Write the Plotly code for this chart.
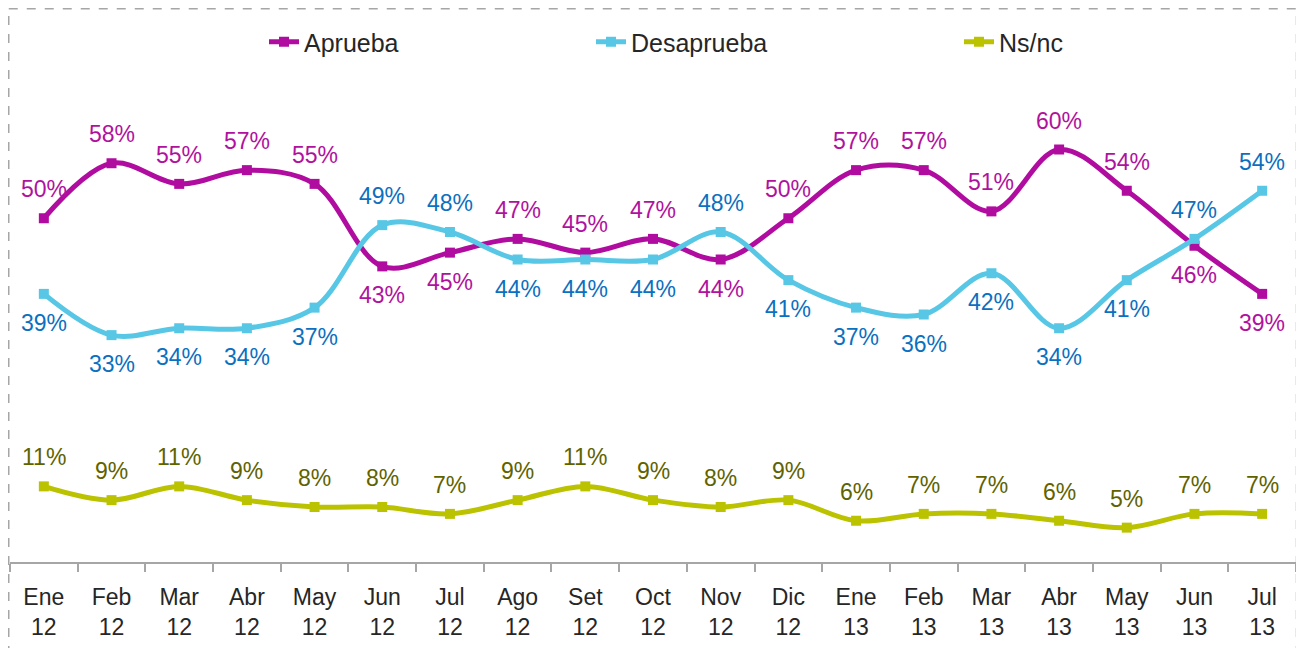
import plotly.graph_objects as go

categories = ["Ene<br>12", "Feb<br>12", "Mar<br>12", "Abr<br>12", "May<br>12", "Jun<br>12",
              "Jul<br>12", "Ago<br>12", "Set<br>12", "Oct<br>12", "Nov<br>12", "Dic<br>12",
              "Ene<br>13", "Feb<br>13", "Mar<br>13", "Abr<br>13", "May<br>13", "Jun<br>13", "Jul<br>13"]
aprueba = [50, 58, 55, 57, 55, 43, 45, 47, 45, 47, 44, 50, 57, 57, 51, 60, 54, 46, 39]
desaprueba = [39, 33, 34, 34, 37, 49, 48, 44, 44, 44, 48, 41, 37, 36, 42, 34, 41, 47, 54]
nsnc = [11, 9, 11, 9, 8, 8, 7, 9, 11, 9, 8, 9, 6, 7, 7, 6, 5, 7, 7]

# label placement: 1 = above, -1 = below
pos_aprueba = [1, 1, 1, 1, 1, -1, -1, 1, 1, 1, -1, 1, 1, 1, 1, 1, 1, -1, -1]
pos_desaprueba = [-1, -1, -1, -1, -1, 1, 1, -1, -1, -1, 1, -1, -1, -1, -1, -1, -1, 1, 1]
pos_nsnc = [1] * 19

FONT = "Liberation Sans, Arial, sans-serif"

series = [
    ("Aprueba", aprueba, pos_aprueba, "#B10CA0", "#B0129E", "legend"),
    ("Desaprueba", desaprueba, pos_desaprueba, "#57C7E5", "#0B70C0", "legend2"),
    ("Ns/nc", nsnc, pos_nsnc, "#BBC300", "#5E6300", "legend3"),
]

fig = go.Figure()
annotations = []
for name, vals, poss, lc, tc, leg in series:
    fig.add_trace(go.Scatter(
        x=categories, y=vals, name=name, mode="lines+markers",
        line=dict(color=lc, width=5, shape="spline", smoothing=1.0),
        marker=dict(symbol="square", size=10, color=lc),
        legend=leg,
    ))
    for c, v, p in zip(categories, vals, poss):
        annotations.append(dict(
            x=c, y=v, text=f"{v}%", showarrow=False, xanchor="center", yanchor="middle",
            yshift=29 * p, font=dict(family=FONT, size=23, color=tc),
        ))

# the page adds an 8px body margin; plot area spans page x 10..1296, y 12..562
W, H = 1296, 640
PL, PW, PT, PH = 2, 1286, 4, 550
leg_common = dict(orientation="h", yanchor="middle", y=1.0 - (42 - 12) / PH,
                  xanchor="left", font=dict(family=FONT, size=25, color="#262626"),
                  bgcolor="rgba(0,0,0,0)", borderwidth=0)

border = dict(color="#A6A6A6", width=1.5, dash="dash")
bx0 = (0.75 - PL) / PW
bx1 = (1288.5 - PL) / PW
by1 = (PT + PH - 0.75) / PH

fig.update_layout(
    width=W, height=H,
    margin=dict(l=PL, r=W - PL - PW, t=PT, b=H - PT - PH),
    paper_bgcolor="white", plot_bgcolor="white",
    showlegend=True,
    legend=dict(x=(264 - 10) / PW, **leg_common),
    legend2=dict(x=(591 - 10) / PW, **leg_common),
    legend3=dict(x=(959 - 10) / PW, **leg_common),
    xaxis=dict(
        type="category", range=[-0.5, 18.5], showline=True, linecolor="#A6A6A6", linewidth=2,
        ticks="outside", tickson="boundaries", ticklen=8, tickwidth=2, tickcolor="#A6A6A6",
        tickfont=dict(family=FONT, size=23, color="#262626"), showgrid=False,
        ticklabelstandoff=13,
    ),
    yaxis=dict(range=[0, 80], showgrid=False, showticklabels=False, zeroline=False,
               showline=False, ticks=""),
    annotations=annotations,
    shapes=[
        dict(type="line", xref="paper", yref="paper", x0=bx0, x1=bx1, y0=by1, y1=by1, line=border),
        dict(type="line", xref="paper", yref="paper", x0=bx0, x1=bx0, y0=-0.3, y1=by1, line=border),
        dict(type="line", xref="paper", yref="paper", x0=bx1, x1=bx1, y0=-0.3, y1=by1, line=border),
    ],
)

fig.write_html("out.html")
